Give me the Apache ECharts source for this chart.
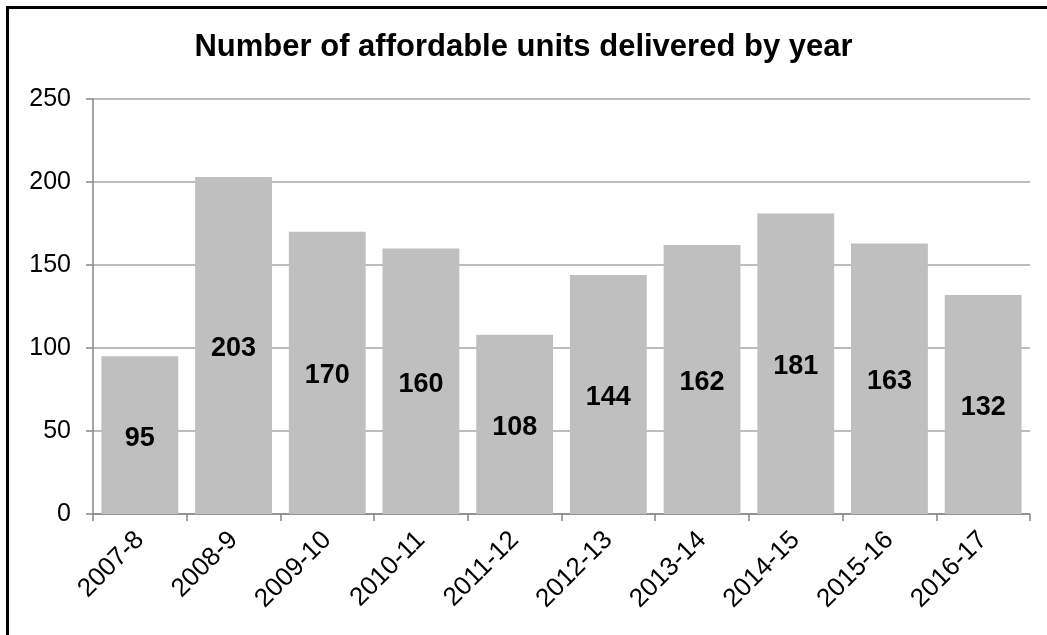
<!DOCTYPE html>
<html>
<head>
<meta charset="utf-8">
<script src="https://cdn.jsdelivr.net/npm/echarts@6/dist/echarts.min.js"></script>
<style>
html,body{margin:0;padding:0;background:#fff;}
#frame{position:absolute;left:6px;top:6px;width:1041px;height:629px;border-top:3px solid #000;border-left:3px solid #000;box-sizing:border-box;}
#chart{position:absolute;left:0;top:0;width:1047px;height:635px;}
</style>
</head>
<body>
<div id="frame"></div>
<div id="chart"></div>
<script>
const categories = ["2007-8","2008-9","2009-10","2010-11","2011-12","2012-13","2013-14","2014-15","2015-16","2016-17"];
const units = [95, 203, 170, 160, 108, 144, 162, 181, 163, 132];
const titleText = "Number of affordable units delivered by year";

const chart = echarts.init(document.getElementById('chart'), null, {renderer:'canvas'});
const font = 'Arial, "Liberation Sans", sans-serif';
chart.setOption({
  animation:false,
  backgroundColor:'transparent',
  title:{text:titleText,left:'center',top:27,textStyle:{fontFamily:font,fontWeight:'bold',fontSize:31,color:'#000'}},
  grid:{left:93,right:17,top:99,bottom:121,containLabel:false},
  xAxis:{type:'category',data:categories,
    axisLine:{lineStyle:{color:'#868686',width:1.5}},
    axisTick:{show:true,length:7,lineStyle:{color:'#868686',width:1.5}},
    axisLabel:{rotate:45,margin:22,fontFamily:font,fontSize:26,color:'#000'}},
  yAxis:{type:'value',min:0,max:250,interval:50,
    axisLine:{show:true,lineStyle:{color:'#868686',width:1.5}},
    axisTick:{show:true,length:7,lineStyle:{color:'#868686',width:1.5}},
    splitLine:{lineStyle:{color:'#a6a6a6',width:1.5}},
    axisLabel:{margin:22,fontFamily:font,fontSize:25,color:'#000'}},
  series:[{type:'bar',data:units,barCategoryGap:'18%',
    itemStyle:{color:'#bfbfbf'},
    label:{show:true,position:'inside',offset:[0,3],fontFamily:font,fontWeight:'bold',fontSize:27,color:'#000'}}]
});
</script>
</body>
</html>
